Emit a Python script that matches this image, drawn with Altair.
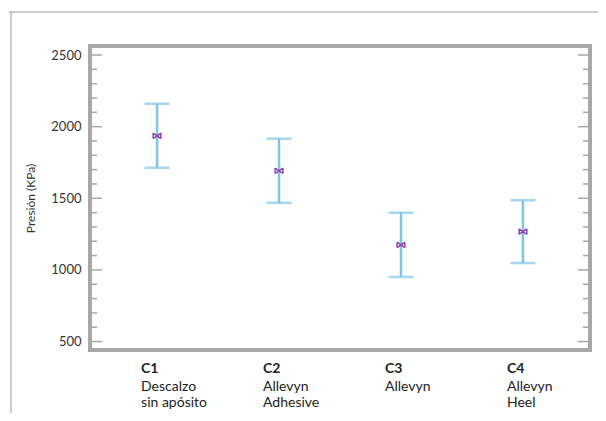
import altair as alt
import pandas as pd

categories = ["C1", "C2", "C3", "C4"]
descriptions = ["Descalzo\nsin apósito", "Allevyn\nAdhesive", "Allevyn", "Allevyn\nHeel"]
lower = [1713, 1469, 951, 1048]
upper = [2160, 1916, 1399, 1486]
mean = [1936, 1692, 1175, 1267]

major_ticks = [500, 1000, 1500, 2000, 2500]
minor_ticks = [v for v in range(500, 2600, 100) if v not in major_ticks]

FONT = "Lato"
BLUE = "#7fc4ec"
PURPLE = "#8e44ad"
GRAY = "#a8a8a8"

df = pd.DataFrame({"cat": categories, "desc": descriptions, "lo": lower, "hi": upper, "mean": mean})
major_df = pd.DataFrame({"v": major_ticks})
minor_df = pd.DataFrame({"v": minor_ticks})
one = pd.DataFrame({"a": [0]})

x = alt.X("cat:N", axis=None, scale=alt.Scale(type="point", padding=0.55), sort=categories)
yscale = alt.Scale(domain=[441, 2563], nice=False, zero=False)

base = alt.Chart(df)

bars = base.mark_rule(color=BLUE, strokeWidth=2.5).encode(
    x=x,
    y=alt.Y("lo:Q", scale=yscale, title="Presión (KPa)",
            axis=alt.Axis(values=major_ticks, format="d", ticks=False, domain=False, grid=False,
                          labelPadding=9, labelFontSize=13, labelColor="#333333",
                          labelFont=FONT, titleFont=FONT, titleFontSize=12,
                          titleFontWeight="normal", titleColor="#333333", titlePadding=13)),
    y2="hi:Q",
)
cap_lo = base.mark_tick(color=BLUE, thickness=2.5, size=25).encode(x=x, y=alt.Y("lo:Q", scale=yscale))
cap_hi = base.mark_tick(color=BLUE, thickness=2.5, size=25).encode(x=x, y=alt.Y("hi:Q", scale=yscale))
means = base.mark_point(
    shape="M-1,-0.7L1,0.7M-1,0.7L1,-0.7M-1,-0.7L-1,0.7M1,-0.7L1,0.7",
    filled=False, color=PURPLE, strokeWidth=1.5, size=60, opacity=1,
).encode(x=x, y=alt.Y("mean:Q", scale=yscale))

codes = base.mark_text(align="left", baseline="middle", dx=-16, font=FONT, fontSize=14,
                       fontWeight="bold", color="#222222").encode(
    x=x, y=alt.value(323), text="cat:N")
descs = base.mark_text(align="left", baseline="middle", dx=-16, font=FONT, fontSize=14,
                       color="#222222", lineBreak="\n", lineHeight=16).encode(
    x=x, y=alt.value(341), text="desc:N")

tick_l_major = alt.Chart(major_df).mark_rule(color=GRAY, strokeWidth=1.5).encode(
    y=alt.Y("v:Q", scale=yscale), x=alt.value(2), x2=alt.value(12))
tick_l_minor = alt.Chart(minor_df).mark_rule(color=GRAY, strokeWidth=1.5).encode(
    y=alt.Y("v:Q", scale=yscale), x=alt.value(2), x2=alt.value(7))
tick_r_major = alt.Chart(major_df).mark_rule(color=GRAY, strokeWidth=1.5).encode(
    y=alt.Y("v:Q", scale=yscale), x=alt.value(488), x2=alt.value(498))
tick_r_minor = alt.Chart(minor_df).mark_rule(color=GRAY, strokeWidth=1.5).encode(
    y=alt.Y("v:Q", scale=yscale), x=alt.value(493), x2=alt.value(498))

box = alt.Chart(one).mark_rect(filled=False, stroke=GRAY, strokeWidth=4).encode(
    x=alt.value(0), x2=alt.value(500), y=alt.value(0), y2=alt.value(304))

frame_top = alt.Chart(one).mark_rule(color="#999999", strokeWidth=1).encode(
    x=alt.value(-81), x2=alt.value(520), y=alt.value(-34))
frame_left = alt.Chart(one).mark_rule(color="#999999", strokeWidth=1).encode(
    x=alt.value(-79), y=alt.value(-34), y2=alt.value(380))

chart = alt.layer(
    frame_top, frame_left, box,
    tick_l_major, tick_l_minor, tick_r_major, tick_r_minor,
    bars, cap_lo, cap_hi, means, codes, descs,
).properties(
    width=500, height=304,
    autosize=alt.AutoSizeParams(type="none"),
    padding={"left": 82, "top": 38, "right": 8, "bottom": 63},
).configure_view(strokeWidth=0).configure(background="white")

chart.save("out.html", embed_options={"renderer": "svg", "actions": False})
